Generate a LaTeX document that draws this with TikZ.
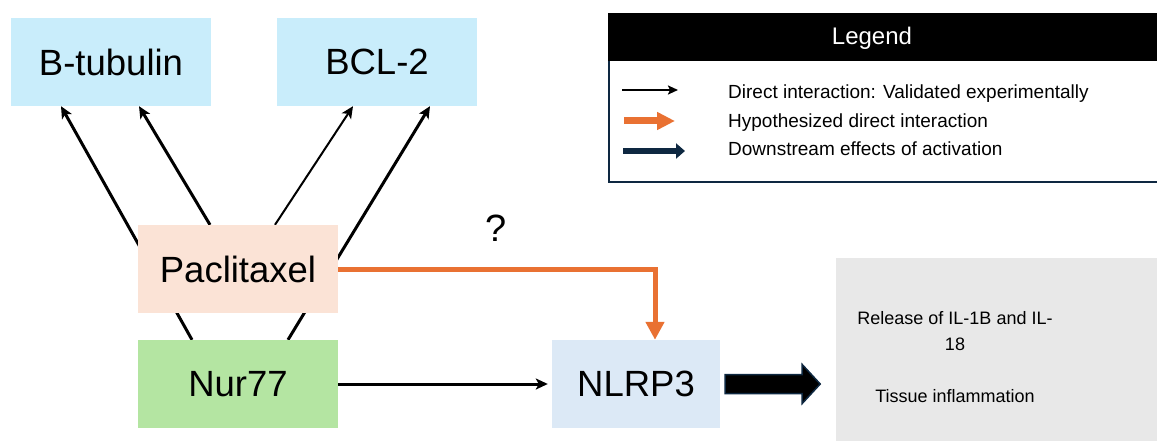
\documentclass[tikz,border=0pt]{standalone}
\usepackage{fontspec}
\setmainfont{Liberation Sans}
\usetikzlibrary{arrows.meta,calc,backgrounds}
\definecolor{lblue}{HTML}{C9EDFB}
\definecolor{peach}{HTML}{FBE3D6}
\definecolor{lgreen}{HTML}{B4E5A2}
\definecolor{pblue}{HTML}{DCE9F6}
\definecolor{lgrey}{HTML}{E8E8E8}
\definecolor{orng}{HTML}{E97132}
\definecolor{navy}{HTML}{0E2841}
\begin{document}
\begin{tikzpicture}[x=1pt,y=-1pt,
  box/.style={rectangle, minimum width=200pt, minimum height=88pt, inner sep=0pt, font=\fontsize{36.5}{40}\selectfont},
  arr/.style={-{Stealth[length=12pt,width=11pt,inset=3pt]}, line width=3pt},
  legtxt/.style={anchor=base west, inner sep=0pt, font=\fontsize{19}{22}\selectfont},
  hyp/.style={orng, line width=5pt, -{Triangle[length=18pt,width=18pt]}}]
\useasboundingbox (0,0) rectangle (1157,441);
\clip (0,0) rectangle (1157,441);

% nodes
\node[box, fill=lblue] (btub) at (111,62) {B-tubulin};
\node[box, fill=lblue] (bcl) at (377,62) {BCL-2};
\node[box, fill=peach] (pac) at (238,269) {Paclitaxel};
\node[box, fill=lgreen] (nur) at (238,384) {Nur77};
\node[box, fill=pblue, minimum width=168pt] (nlrp) at (636,384) {NLRP3};
\node[fill=lgrey, minimum width=400pt, minimum height=200pt, anchor=north west, inner sep=0pt] (out) at (836,258) {};
\node[align=center, font=\fontsize{18}{26}\selectfont] (outtxt) at (955,357) {Release of IL-1B and IL-\\18\\[26pt]Tissue inflammation};
\node[font=\fontsize{38}{42}\selectfont] (q) at (496,228) {?};

% connectors behind boxes
\begin{pgfonlayer}{background}
\draw[arr] ($(nur.north)+(-46,0)$) -- ($(btub.south)+(-50,0)$);
\draw[arr] ($(pac.north)+(-28,0)$) -- ($(btub.south)+(28,0)$);
\draw[arr, line width=2pt] ($(pac.north)+(37,0)$) -- ($(bcl.south)+(-24,0)$);
\draw[arr] ($(nur.north)+(50,0)$) -- ($(bcl.south)+(53,0)$);
\end{pgfonlayer}

\draw[hyp] (pac.east) -| ($(nlrp.north)+(19,0)$);
\draw[arr, shorten >=4pt] (nur.east) -- (nlrp.west);
\draw[navy, line width=1.5pt, fill=black] ($(nlrp.east)+(5,-9.5)$) -- ++(77,0) -- ++(0,-10)
  -- ($(nlrp.east)+(100,0)$) -- ($(nlrp.east)+(82,19.5)$) -- ++(0,-10)
  -- ($(nlrp.east)+(5,9.5)$) -- cycle;

% legend
\node[draw=navy, line width=2pt, fill=white, minimum width=600pt, minimum height=168pt, anchor=north west, inner sep=0pt] (leg) at (608,13) {};
\node[fill=black, minimum width=600pt, minimum height=48pt, anchor=north west, inner sep=0pt] (leghead) at (608,13) {};
\node[text=white, font=\fontsize{24}{28}\selectfont] (legtitle) at (872,38) {Legend};
\coordinate (l1a) at (622,90); \coordinate (l1b) at (678,90);
\coordinate (l2a) at (624,121); \coordinate (l2b) at (675,121);
\coordinate (l3a) at (623,151); \coordinate (l3b) at (685,151);
\draw[-{Stealth[length=10pt,width=9pt,inset=2pt]}, line width=2.5pt] (l1a) -- (l1b);
\draw[orng, line width=7pt, -{Triangle[length=18pt,width=17pt]}] (l2a) -- (l2b);
\draw[navy, line width=6pt, -{Triangle[length=9pt,width=15pt]}] (l3a) -- (l3b);
\node[legtxt] (lt1) at (728,99) {Direct interaction: Validated experimentally};
\node[legtxt] (lt2) at (728,128) {Hypothesized direct interaction};
\node[legtxt] (lt3) at (728,156) {Downstream effects of activation};
\end{tikzpicture}
\end{document}
